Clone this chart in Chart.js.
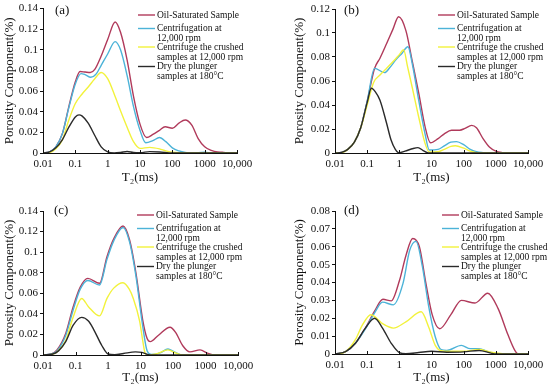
<!DOCTYPE html>
<html>
<head>
<meta charset="utf-8">
<script src="https://cdn.jsdelivr.net/npm/chart.js@4.4.0/dist/chart.umd.min.js"></script>
<style>
  body { margin: 0; background: #fff; width: 550px; height: 390px; position: relative; overflow: hidden; }
  canvas { position: absolute; }
</style>
</head>
<body>
<canvas id="pa" width="275" height="195" style="left:0;top:0"></canvas>
<canvas id="pb" width="275" height="195" style="left:275px;top:0"></canvas>
<canvas id="pc" width="275" height="195" style="left:0;top:195px"></canvas>
<canvas id="pd" width="275" height="195" style="left:275px;top:195px"></canvas>
<script>
// ---- data (T2 in ms, porosity component in %) ----
const legendLines = [
  ['Oil-Saturated Sample'],
  ['Centrifugation at', '12,000 rpm'],
  ['Centrifuge the crushed', 'samples at 12,000 rpm'],
  ['Dry the plunger', 'samples at 180°C']
];
const xTickVals = [0.01, 0.1, 1, 10, 100, 1000, 10000];
const xTickLabels = ['0.01', '0.1', '1', '10', '100', '1000', '10,000'];

// (a)
const oilA = [[0.01,0],[0.016,0.001],[0.025,0.006],[0.04,0.019],[0.063,0.045],[0.1,0.069],[0.14,0.079],[0.2,0.0785],[0.29,0.078],[0.4,0.081],[0.63,0.094],[1,0.110],[1.7,0.127],[2.5,0.117],[4,0.090],[6.3,0.055],[10,0.028],[16,0.015],[25,0.018],[40,0.022],[60,0.0255],[100,0.024],[160,0.029],[250,0.032],[400,0.027],[630,0.014],[1000,0.006],[1600,0.0025],[2500,0.001],[3500,0.0008],[6000,0],[10000,0]];
const centA = [[0.01,0],[0.016,0.001],[0.025,0.006],[0.04,0.019],[0.063,0.044],[0.1,0.067],[0.15,0.077],[0.2,0.076],[0.3,0.0735],[0.45,0.077],[0.63,0.085],[1,0.096],[1.7,0.108],[2.5,0.100],[4,0.075],[6.3,0.045],[10,0.022],[15,0.010],[25,0.012],[40,0.015],[63,0.011],[100,0.005],[160,0.002],[250,0.0005],[400,0],[1000,0.0008],[1600,0],[10000,0]];
const crushA = [[0.01,0],[0.016,0.0005],[0.025,0.004],[0.04,0.013],[0.063,0.032],[0.1,0.048],[0.16,0.057],[0.25,0.064],[0.4,0.072],[0.63,0.078],[1,0.072],[1.6,0.057],[2.5,0.041],[4,0.025],[6.3,0.011],[10,0.0045],[20,0.0055],[40,0.004],[63,0.002],[100,0.0008],[250,0],[10000,0]];
const dryA = [[0.01,0],[0.016,0.001],[0.025,0.005],[0.04,0.013],[0.063,0.025],[0.1,0.035],[0.13,0.037],[0.16,0.036],[0.25,0.029],[0.4,0.017],[0.63,0.006],[1,0.001],[1.6,0],[2.5,0.0005],[4,0.0015],[6.3,0.0005],[10,0.0003],[20,0.0013],[40,0.001],[100,0],[10000,0]];

// (b)
const oilB = [[0.01,0],[0.016,0.0005],[0.025,0.003],[0.04,0.009],[0.063,0.021],[0.1,0.043],[0.17,0.0705],[0.25,0.079],[0.4,0.091],[0.63,0.103],[0.95,0.1135],[1.6,0.102],[2.5,0.077],[4,0.050],[6.3,0.022],[9.3,0.0085],[16,0.012],[25,0.016],[42,0.019],[75,0.019],[110,0.0205],[176,0.023],[250,0.021],[400,0.012],[630,0.005],[1000,0.0015],[1600,0.0003],[2500,0],[10000,0]];
const centB = [[0.01,0],[0.016,0.0005],[0.025,0.003],[0.04,0.009],[0.063,0.021],[0.1,0.043],[0.17,0.0705],[0.35,0.067],[0.5,0.071],[0.8,0.078],[1.2,0.083],[1.85,0.0885],[2.5,0.075],[4,0.044],[6.3,0.016],[8.5,0.0025],[16,0.003],[25,0.006],[40,0.009],[60,0.0095],[100,0.007],[160,0.003],[250,0.001],[400,0.0003],[630,0],[10000,0]];
const crushB = [[0.01,0],[0.016,0.0003],[0.025,0.003],[0.04,0.009],[0.063,0.021],[0.1,0.040],[0.16,0.059],[0.25,0.065],[0.4,0.0705],[0.63,0.076],[1,0.082],[1.36,0.086],[1.8,0.072],[2.5,0.055],[4,0.030],[6.3,0.008],[8.5,0.0008],[16,0.001],[25,0.003],[40,0.0055],[55,0.006],[100,0.004],[160,0.0015],[250,0.0003],[400,0],[10000,0]];
const dryB = [[0.01,0],[0.016,0.0005],[0.025,0.003],[0.04,0.009],[0.063,0.021],[0.1,0.042],[0.135,0.054],[0.18,0.051],[0.25,0.044],[0.4,0.025],[0.55,0.011],[0.75,0.003],[0.95,0.0003],[1.5,0.0015],[2.5,0.0035],[3.8,0.0045],[5.5,0.002],[8,0],[10000,0]];

// (c)
const oilC = [[0.01,0],[0.018,0.001],[0.027,0.005],[0.05,0.021],[0.085,0.047],[0.14,0.066],[0.24,0.0745],[0.55,0.0697],[0.93,0.0956],[1.5,0.113],[2.9,0.1254],[4.6,0.112],[7.3,0.079],[11.7,0.034],[16,0.016],[20,0.013],[35,0.019],[81,0.027],[120,0.022],[200,0.009],[330,0.003],[680,0.005],[1200,0.0015],[2000,0],[10000,0]];
const centC = [[0.01,0],[0.018,0.001],[0.027,0.004],[0.05,0.019],[0.085,0.044],[0.14,0.064],[0.24,0.0725],[0.55,0.068],[0.93,0.093],[1.5,0.111],[2.9,0.124],[4.6,0.110],[7.3,0.076],[11.7,0.028],[16,0.004],[22,0.0005],[40,0.002],[70,0.0058],[110,0.003],[200,0],[10000,0]];
const crushC = [[0.01,0],[0.018,0.0005],[0.027,0.003],[0.05,0.014],[0.085,0.037],[0.155,0.055],[0.25,0.047],[0.55,0.038],[0.93,0.055],[1.5,0.065],[2.9,0.0703],[4.5,0.064],[6,0.055],[9.4,0.033],[11.7,0.014],[13.5,0.003],[16,0],[30,0.001],[70,0.005],[120,0.002],[200,0],[10000,0]];
const dryC = [[0.01,0],[0.02,0.001],[0.03,0.004],[0.05,0.013],[0.085,0.029],[0.155,0.0366],[0.25,0.033],[0.36,0.025],[0.65,0.009],[1,0.001],[1.6,0.0003],[3,0.0015],[7,0.003],[11,0.0025],[20,0],[10000,0]];

// (d)
const oilD = [[0.01,0],[0.022,0.0015],[0.043,0.006],[0.088,0.0145],[0.17,0.024],[0.31,0.0306],[0.56,0.0297],[1.02,0.0414],[1.6,0.055],[2.6,0.0646],[4.2,0.060],[6.7,0.0395],[10.5,0.022],[18,0.0141],[40,0.022],[85,0.030],[225,0.0285],[560,0.034],[1170,0.0255],[2350,0.011],[3900,0.002],[5000,0],[10000,0]];
const centD = [[0.01,0],[0.022,0.0015],[0.043,0.006],[0.088,0.014],[0.17,0.023],[0.3,0.029],[0.65,0.0275],[1.3,0.0395],[2.1,0.058],[3.3,0.063],[5.2,0.049],[8.2,0.0265],[13,0.0098],[20,0.0024],[30,0.002],[85,0.0048],[160,0.003],[300,0.003],[600,0.0012],[1500,0],[10000,0]];
const crushD = [[0.01,0],[0.02,0.001],[0.043,0.008],[0.07,0.016],[0.13,0.022],[0.3,0.017],[0.65,0.0145],[1.6,0.018],[4.8,0.0236],[8.2,0.015],[13,0.005],[20,0.0018],[40,0.0015],[100,0.0015],[300,0.0025],[700,0.001],[2300,0],[10000,0]];
const dryD = [[0.01,0],[0.022,0.0015],[0.043,0.006],[0.088,0.0145],[0.17,0.020],[0.3,0.0145],[0.56,0.006],[1,0.0008],[1.6,0.0002],[4,0.0008],[10,0.0015],[30,0.001],[100,0.0012],[300,0.002],[700,0.0005],[1000,0],[10000,0]];

// ---- styles / layout ----
const colors = ['#b03a5b', '#4cb3d8', '#f2f23c', '#2a2a2a'];
const FONT = '"Liberation Serif", "Times New Roman", serif';
Chart.defaults.font.family = FONT;
Chart.defaults.color = '#111';

const panels = [
  { id: 'pa', tag: '(a)', series: [oilA, centA, crushA, dryA], yMax: 0.14, yStep: 0.02,
    area: { l: 43, r: 237, t: 7.5, b: 153 }, leg: { x: 138, y: 15 }, tagPos: { x: 55, y: 11 }, yTitleC: 10, xTitleC: 178 },
  { id: 'pb', tag: '(b)', series: [oilB, centB, crushB, dryB], yMax: 0.12, yStep: 0.02,
    area: { l: 60, r: 253, t: 9, b: 153 }, leg: { x: 163, y: 15 }, tagPos: { x: 69, y: 11 }, yTitleC: 25, xTitleC: 178 },
  { id: 'pc', tag: '(c)', series: [oilC, centC, crushC, dryC], yMax: 0.14, yStep: 0.02,
    area: { l: 43, r: 238, t: 16, b: 160 }, leg: { x: 137, y: 20 }, tagPos: { x: 54, y: 16 }, yTitleC: 10, xTitleC: 183 },
  { id: 'pd', tag: '(d)', series: [oilD, centD, crushD, dryD], yMax: 0.08, yStep: 0.01,
    area: { l: 60, r: 253, t: 16, b: 159 }, leg: { x: 167, y: 20 }, tagPos: { x: 69, y: 16 }, yTitleC: 25, xTitleC: 183 }
];
const legOffsets = [0, 13.5, 32, 51.5];

const decorPlugin = {
  id: 'decor',
  afterDraw(chart, args, opts) {
    const ctx = chart.ctx;
    const xs = chart.scales.x;
    const bottom = chart.chartArea.bottom;
    ctx.save();
    // inward x ticks
    ctx.strokeStyle = '#111';
    ctx.lineWidth = 1;
    xTickVals.forEach(v => {
      const px = Math.round(xs.getPixelForValue(v)) + 0.5;
      ctx.beginPath(); ctx.moveTo(px, bottom); ctx.lineTo(px, bottom - 3); ctx.stroke();
    });
    // panel tag
    ctx.fillStyle = '#111';
    ctx.font = '13px ' + FONT;
    ctx.textAlign = 'left';
    ctx.textBaseline = 'middle';
    ctx.fillText(opts.tag, opts.tagPos.x, opts.tagPos.y);
    // legend
    ctx.font = '9.5px ' + FONT;
    legendLines.forEach((lines, i) => {
      const y = opts.leg.y + legOffsets[i];
      ctx.strokeStyle = colors[i];
      ctx.lineWidth = 1.4;
      ctx.beginPath(); ctx.moveTo(opts.leg.x, y); ctx.lineTo(opts.leg.x + 17, y); ctx.stroke();
      lines.forEach((t, j) => ctx.fillText(t, opts.leg.x + 19, y + j * 10));
    });
    ctx.restore();
  }
};

panels.forEach(p => {
  const H = 195, W = 275;
  new Chart(document.getElementById(p.id), {
    type: 'line',
    data: {
      datasets: p.series.map((s, i) => ({
        label: legendLines[i].join(' '),
        data: s.map(d => ({ x: d[0], y: d[1] })),
        borderColor: colors[i],
        borderWidth: 1.4,
        pointRadius: 0,
        fill: false,
        cubicInterpolationMode: 'monotone',
        order: 4 - i
      }))
    },
    options: {
      responsive: false,
      animation: false,
      layout: { padding: { top: p.area.t, right: W - p.area.r, left: 0, bottom: 0 } },
      plugins: {
        legend: { display: false },
        tooltip: { enabled: false },
        decor: { tag: p.tag, tagPos: p.tagPos, leg: p.leg }
      },
      scales: {
        x: {
          type: 'logarithmic',
          min: 0.01, max: 10000,
          afterBuildTicks: s => { s.ticks = xTickVals.map(v => ({ value: v })); },
          afterFit: s => { s.height = H - p.area.b; },
          ticks: { autoSkip: false, maxRotation: 0, padding: 5, color: '#111', font: { size: 11 },
                   callback: (v, i) => xTickLabels[i] },
          grid: { display: false, drawTicks: false },
          border: { display: true, color: '#111', width: 1 },
          title: { display: true, text: 'T₂(ms)', color: '#111', font: { size: 13 },
                   padding: { top: 0, bottom: H - p.xTitleC - 7.8 } }
        },
        y: {
          min: 0, max: p.yMax,
          afterFit: s => { s.width = p.area.l; },
          ticks: { stepSize: p.yStep, padding: 2, color: '#111', font: { size: 11 },
                   callback: v => v === 0 ? '0' : String(+v.toFixed(2)) },
          grid: { drawOnChartArea: false, drawTicks: true, tickLength: 3, color: '#111' },
          border: { display: true, color: '#111', width: 1 },
          title: { display: true, text: 'Porosity Component(%)', color: '#111', font: { size: 13 },
                   padding: { top: p.yTitleC - 7.8, bottom: 0 } }
        }
      }
    },
    plugins: [decorPlugin]
  });
});
</script>
</body>
</html>
